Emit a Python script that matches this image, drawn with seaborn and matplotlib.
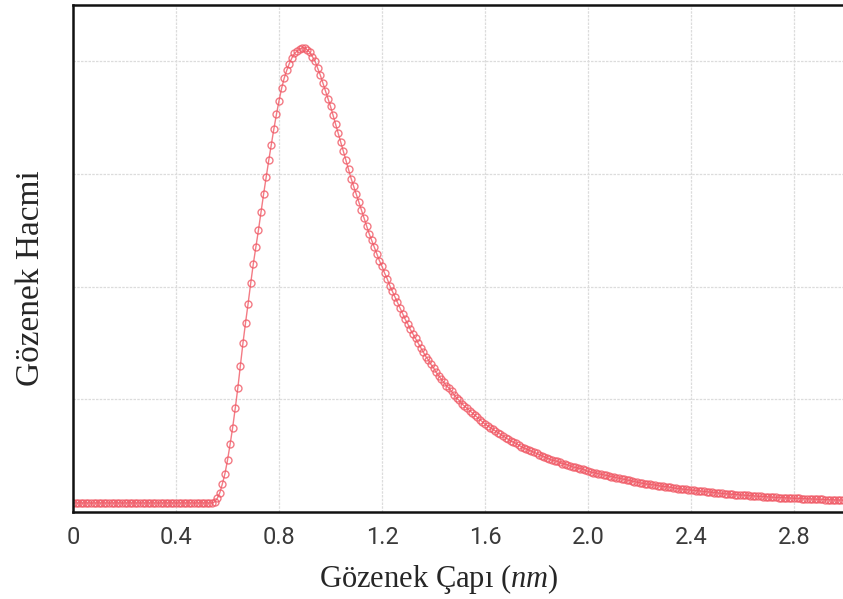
#!/usr/bin/env python3

# Pore size distribution curve (Gözenek Hacmi vs Gözenek Çapı).

import matplotlib
matplotlib.use('Agg')
import matplotlib.pyplot as plt
import seaborn as sns
import pandas as pd

pore_diameter = [
    0.00, 0.01, 0.02, 0.03, 0.04, 0.05, 0.06, 0.07, 0.08, 0.09,
    0.10, 0.11, 0.12, 0.13, 0.14, 0.15, 0.16, 0.17, 0.18, 0.19,
    0.20, 0.21, 0.22, 0.23, 0.24, 0.25, 0.26, 0.27, 0.28, 0.29,
    0.30, 0.31, 0.32, 0.33, 0.34, 0.35, 0.36, 0.37, 0.38, 0.39,
    0.40, 0.41, 0.42, 0.43, 0.44, 0.45, 0.46, 0.47, 0.48, 0.49,
    0.50, 0.51, 0.52, 0.53, 0.54, 0.55, 0.56, 0.57, 0.58, 0.59,
    0.60, 0.61, 0.62, 0.63, 0.64, 0.65, 0.66, 0.67, 0.68, 0.69,
    0.70, 0.71, 0.72, 0.73, 0.74, 0.75, 0.76, 0.77, 0.78, 0.79,
    0.80, 0.81, 0.82, 0.83, 0.84, 0.85, 0.86, 0.87, 0.88, 0.89,
    0.90, 0.91, 0.92, 0.93, 0.94, 0.95, 0.96, 0.97, 0.98, 0.99,
    1.00, 1.01, 1.02, 1.03, 1.04, 1.05, 1.06, 1.07, 1.08, 1.09,
    1.10, 1.11, 1.12, 1.13, 1.14, 1.15, 1.16, 1.17, 1.18, 1.19,
    1.20, 1.21, 1.22, 1.23, 1.24, 1.25, 1.26, 1.27, 1.28, 1.29,
    1.30, 1.31, 1.32, 1.33, 1.34, 1.35, 1.36, 1.37, 1.38, 1.39,
    1.40, 1.41, 1.42, 1.43, 1.44, 1.45, 1.46, 1.47, 1.48, 1.49,
    1.50, 1.51, 1.52, 1.53, 1.54, 1.55, 1.56, 1.57, 1.58, 1.59,
    1.60, 1.61, 1.62, 1.63, 1.64, 1.65, 1.66, 1.67, 1.68, 1.69,
    1.70, 1.71, 1.72, 1.73, 1.74, 1.75, 1.76, 1.77, 1.78, 1.79,
    1.80, 1.81, 1.82, 1.83, 1.84, 1.85, 1.86, 1.87, 1.88, 1.89,
    1.90, 1.91, 1.92, 1.93, 1.94, 1.95, 1.96, 1.97, 1.98, 1.99,
    2.00, 2.01, 2.02, 2.03, 2.04, 2.05, 2.06, 2.07, 2.08, 2.09,
    2.10, 2.11, 2.12, 2.13, 2.14, 2.15, 2.16, 2.17, 2.18, 2.19,
    2.20, 2.21, 2.22, 2.23, 2.24, 2.25, 2.26, 2.27, 2.28, 2.29,
    2.30, 2.31, 2.32, 2.33, 2.34, 2.35, 2.36, 2.37, 2.38, 2.39,
    2.40, 2.41, 2.42, 2.43, 2.44, 2.45, 2.46, 2.47, 2.48, 2.49,
    2.50, 2.51, 2.52, 2.53, 2.54, 2.55, 2.56, 2.57, 2.58, 2.59,
    2.60, 2.61, 2.62, 2.63, 2.64, 2.65, 2.66, 2.67, 2.68, 2.69,
    2.70, 2.71, 2.72, 2.73, 2.74, 2.75, 2.76, 2.77, 2.78, 2.79,
    2.80, 2.81, 2.82, 2.83, 2.84, 2.85, 2.86, 2.87, 2.88, 2.89,
    2.90, 2.91, 2.92, 2.93, 2.94, 2.95, 2.96, 2.97, 2.98, 2.99,
    3.00,
]

pore_volume = [
    0.08, 0.08, 0.08, 0.08, 0.08, 0.08, 0.08, 0.08, 0.08, 0.08,
    0.08, 0.08, 0.08, 0.08, 0.08, 0.08, 0.08, 0.08, 0.08, 0.08,
    0.08, 0.08, 0.08, 0.08, 0.08, 0.08, 0.08, 0.08, 0.08, 0.08,
    0.08, 0.08, 0.08, 0.08, 0.08, 0.08, 0.08, 0.08, 0.08, 0.08,
    0.08, 0.08, 0.08, 0.08, 0.08, 0.08, 0.08, 0.08, 0.08, 0.08,
    0.08, 0.08, 0.08, 0.08, 0.08, 0.09, 0.12, 0.17, 0.25, 0.34,
    0.46, 0.60, 0.75, 0.92, 1.10, 1.30, 1.50, 1.68, 1.85, 2.03,
    2.20, 2.35, 2.50, 2.66, 2.82, 2.97, 3.12, 3.26, 3.40, 3.53,
    3.65, 3.76, 3.85, 3.92, 3.98, 4.03, 4.07, 4.09, 4.11, 4.12,
    4.12, 4.10, 4.08, 4.04, 4.00, 3.94, 3.88, 3.81, 3.74, 3.67,
    3.60, 3.52, 3.44, 3.36, 3.28, 3.20, 3.12, 3.04, 2.96, 2.89,
    2.82, 2.75, 2.68, 2.61, 2.54, 2.47, 2.41, 2.35, 2.29, 2.23,
    2.18, 2.12, 2.07, 2.01, 1.96, 1.91, 1.86, 1.81, 1.76, 1.71,
    1.67, 1.62, 1.58, 1.54, 1.50, 1.46, 1.42, 1.38, 1.35, 1.31,
    1.28, 1.24, 1.21, 1.18, 1.15, 1.12, 1.10, 1.07, 1.04, 1.01,
    0.99, 0.96, 0.94, 0.92, 0.90, 0.88, 0.86, 0.84, 0.82, 0.80,
    0.78, 0.765, 0.75, 0.735, 0.72, 0.705, 0.69, 0.675, 0.66, 0.645,
    0.63, 0.62, 0.61, 0.595, 0.58, 0.57, 0.56, 0.55, 0.54, 0.53,
    0.52, 0.51, 0.50, 0.49, 0.48, 0.47, 0.46, 0.455, 0.45, 0.44,
    0.43, 0.425, 0.42, 0.41, 0.40, 0.395, 0.39, 0.385, 0.38, 0.37,
    0.36, 0.355, 0.35, 0.345, 0.34, 0.335, 0.33, 0.325, 0.32, 0.315,
    0.31, 0.305, 0.30, 0.295, 0.29, 0.285, 0.28, 0.275, 0.27, 0.265,
    0.26, 0.255, 0.25, 0.247, 0.245, 0.242, 0.24, 0.235, 0.23, 0.227,
    0.225, 0.222, 0.22, 0.215, 0.21, 0.207, 0.205, 0.202, 0.20, 0.197,
    0.195, 0.192, 0.19, 0.187, 0.185, 0.182, 0.18, 0.177, 0.175, 0.172,
    0.17, 0.167, 0.165, 0.162, 0.16, 0.158, 0.157, 0.155, 0.153, 0.151,
    0.15, 0.148, 0.147, 0.145, 0.143, 0.141, 0.14, 0.138, 0.137, 0.135,
    0.134, 0.132, 0.131, 0.129, 0.128, 0.127, 0.126, 0.125, 0.124, 0.123,
    0.122, 0.121, 0.12, 0.119, 0.118, 0.117, 0.116, 0.115, 0.114, 0.113,
    0.112, 0.111, 0.11, 0.109, 0.108, 0.108, 0.107, 0.106, 0.106, 0.105,
    0.105,
]

x_ticks = [0, 0.4, 0.8, 1.2, 1.6, 2.0, 2.4, 2.8]
x_ticklabels = ['0', '0.4', '0.8', '1.2', '1.6', '2.0', '2.4', '2.8']
y_grid = [1, 2, 3, 4]

CURVE_COLOR = '#f05a66'


def main():
    sns.set_style('white')
    plt.rcParams['mathtext.fontset'] = 'custom'
    plt.rcParams['mathtext.rm'] = 'Liberation Serif'
    plt.rcParams['mathtext.it'] = 'Liberation Serif:italic'

    df = pd.DataFrame({'cap': pore_diameter, 'hacim': pore_volume})

    fig = plt.figure(figsize=(8.43, 5.99), dpi=100)
    ax = fig.add_axes([73 / 843, 87 / 599, 1 - 73 / 843, 507 / 599])

    sns.lineplot(
        data=df, x='cap', y='hacim', ax=ax,
        color=CURVE_COLOR, linewidth=1.0, alpha=0.8,
        marker='o', markersize=5, markerfacecolor='none',
        markeredgecolor=CURVE_COLOR, markeredgewidth=1.0,
    )

    ax.set_xlim(0, 2.99)
    ax.set_ylim(0, 4.5)
    ax.set_xticks(x_ticks)
    ax.set_xticklabels(x_ticklabels)
    ax.set_yticks(y_grid)
    ax.set_yticklabels([])
    ax.tick_params(axis='both', length=0)
    ax.tick_params(axis='x', pad=10, labelsize=17, labelcolor='#3a3a3a')
    for label in ax.get_xticklabels():
        label.set_family(['Roboto', 'DejaVu Sans'])
    ax.grid(True, color='#dcdcdc', linewidth=0.9, linestyle=(0, (2, 1)))

    for side in ['left', 'bottom', 'top']:
        ax.spines[side].set_color('#111111')
        ax.spines[side].set_linewidth(1.8)
    ax.spines['right'].set_visible(False)

    ax.set_xlabel('')
    ax.set_ylabel('')
    fig.text(
        0.52, 0.034, 'Gözenek Çapı (' + r'$\it{nm}$' + ')',
        ha='center', va='center', fontsize=22,
        family='Liberation Serif',
    )
    fig.text(
        0.036, 0.535, 'Gözenek Hacmi',
        ha='center', va='center', fontsize=24, rotation=90,
        family='Liberation Serif',
    )

    fig.savefig('out.png', dpi=100)


if __name__ == '__main__':
    main()
